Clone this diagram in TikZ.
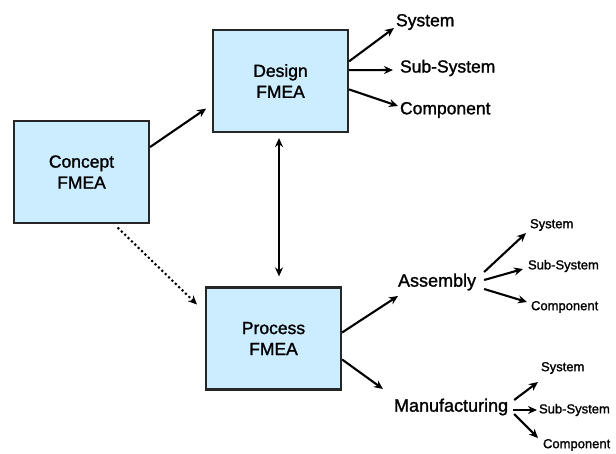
\documentclass[tikz,border=0pt]{standalone}
\usepackage{fontspec}
\setmainfont{Liberation Sans}[BoldFont={Liberation Sans}, BoldFeatures={FakeBold=1.4}]
\usetikzlibrary{arrows.meta}
\definecolor{fmeablue}{RGB}{204,236,255}

\begin{document}
\begin{tikzpicture}[x=1pt, y=-1pt, >={Stealth[length=9pt,width=8pt]}, line width=2.1pt,
    fmea/.style={draw=black!85, fill=fmeablue, rectangle, align=center, line width=2.2pt,
                 minimum width=135pt, minimum height=102pt, font=\fontsize{17.5}{21}\selectfont\bfseries},
    biglabel/.style={anchor=west, inner sep=1pt, font=\fontsize{17.5}{21}\selectfont\bfseries},
    midlabel/.style={anchor=west, inner sep=1pt, font=\fontsize{18}{21}\selectfont\bfseries},
    smalllabel/.style={anchor=west, inner sep=1pt, font=\fontsize{13}{15}\selectfont\bfseries}]
    \path[fill=white] (0,0) rectangle (616,453);
    \useasboundingbox (0,0) rectangle (616,453);

    % FMEA boxes
    \node (ConceptBox) [fmea] at (81.5,172) {Concept\\FMEA};
    \node (DesignBox) [fmea] at (280.5,81) {Design\\FMEA};
    \node (ProcessBox) [fmea] at (273.5,338.5) {Process\\FMEA};

    % Design levels
    \node (DesignSystem) [biglabel] at (394,22) {System};
    \node (DesignSub) [biglabel] at (398,68) {Sub-System};
    \node (DesignComp) [biglabel] at (398,110) {Component};

    % Process levels
    \node (Assembly) [midlabel] at (396,282) {Assembly};
    \node (Manufacturing) [midlabel] at (392,407) {Manufacturing};
    \node (AsmSystem) [smalllabel] at (528,225) {System};
    \node (AsmSub) [smalllabel] at (526,266) {Sub-System};
    \node (AsmComp) [smalllabel] at (529,307) {Component};
    \node (MfgSystem) [smalllabel] at (539,368) {System};
    \node (MfgSub) [smalllabel] at (537,410) {Sub-System};
    \node (MfgComp) [smalllabel] at (541,445) {Component};

    % Arrows between boxes
    \draw[->, shorten >=7pt] (ConceptBox.20) -- (DesignBox.199);
    \draw[<->, shorten <=5pt, shorten >=10pt] ([xshift=-1.5pt]DesignBox.south) -- ([xshift=5.5pt]ProcessBox.north);
    \draw[->, dash pattern=on 2.1pt off 2.6pt, shorten <=5pt, shorten >=11pt] (ConceptBox.-58) -- (ProcessBox.159);

    % Design fan
    \draw[->] (DesignBox.16) -- ([yshift=-6pt]DesignSystem.west);
    \draw[->, shorten >=5pt] (DesignBox.9) -- ([yshift=-2pt]DesignSub.west);
    \draw[->] (DesignBox.-7) -- ([yshift=4pt]DesignComp.west);

    % Process fan
    \draw[->] (ProcessBox.5) -- ([xshift=2pt,yshift=-14pt]Assembly.west);
    \draw[->] (ProcessBox.-17) -- ([xshift=-9pt,yshift=18pt]Manufacturing.west);

    \draw[->] ([xshift=6pt,yshift=10pt]Assembly.east) -- ([xshift=-2pt,yshift=-8pt]AsmSystem.west);
    \draw[->] ([xshift=6pt,yshift=2pt]Assembly.east) -- ([xshift=-3pt,yshift=-3pt]AsmSub.west);
    \draw[->] ([xshift=6pt,yshift=-7pt]Assembly.east) -- ([xshift=-2pt,yshift=5pt]AsmComp.west);

    \draw[->] ([xshift=4pt,yshift=7pt]Manufacturing.east) -- ([xshift=-1pt,yshift=-14pt]MfgSystem.west);
    \draw[->] ([xshift=3pt,yshift=-3pt]Manufacturing.east) -- (MfgSub.west);
    \draw[->] ([xshift=4pt,yshift=-7pt]Manufacturing.east) -- ([xshift=-3pt,yshift=7pt]MfgComp.west);

\end{tikzpicture}
\end{document}
